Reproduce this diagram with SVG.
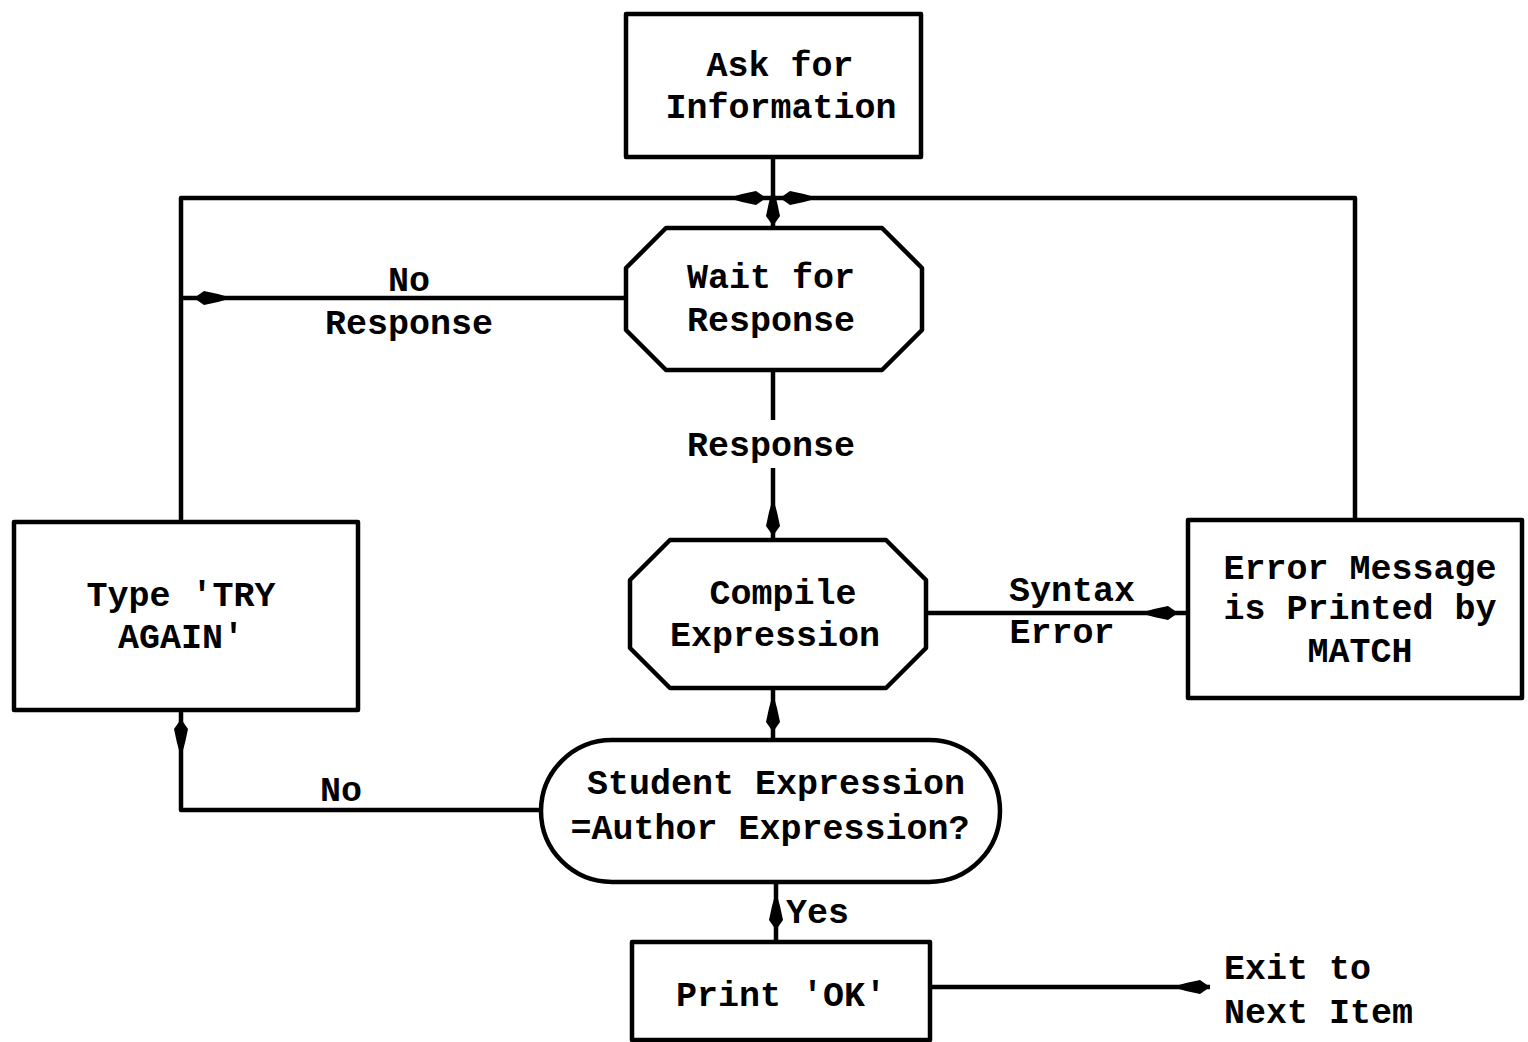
<svg xmlns="http://www.w3.org/2000/svg" xmlns:xlink="http://www.w3.org/1999/xlink" width="1528" height="1042" viewBox="0 0 1528 1042">
<style>
.box{fill:#fff;stroke:#000;stroke-width:4.5;stroke-linejoin:round}
.ln{fill:none;stroke:#000;stroke-width:4.5;stroke-linejoin:round}
.t{font-family:"Liberation Mono","DejaVu Sans Mono",monospace;font-weight:bold;font-size:35px;fill:#000;text-anchor:middle}
.tl{text-anchor:start}
</style>
<defs>
<path id="ah" d="M-24,0 L-10,-4 L4,-7 L14,0 L4,7 L-10,4 Z" fill="#000"/>
</defs>
<rect width="1528" height="1042" fill="#fff"/>
<g id="connectors">
<line class="ln" x1="773" y1="157" x2="773" y2="228"/>
<polyline class="ln" points="181,522 181,198 1355,198 1355,520"/>
<line class="ln" x1="626" y1="298" x2="181" y2="298"/>
<line class="ln" x1="773" y1="370" x2="773" y2="420"/>
<line class="ln" x1="773" y1="468" x2="773" y2="540"/>
<line class="ln" x1="926" y1="613" x2="1188" y2="613"/>
<line class="ln" x1="773" y1="688" x2="773" y2="740"/>
<polyline class="ln" points="541,810 181,810 181,710"/>
<line class="ln" x1="776" y1="882" x2="776" y2="942"/>
<line class="ln" x1="930" y1="987" x2="1210" y2="987"/>
<use xlink:href="#ah" transform="translate(752,198)"/>
<use xlink:href="#ah" transform="translate(794,198) rotate(180)"/>
<use xlink:href="#ah" transform="translate(773,212) rotate(90)"/>
<use xlink:href="#ah" transform="translate(208,298) rotate(180)"/>
<use xlink:href="#ah" transform="translate(773,522) rotate(90)"/>
<use xlink:href="#ah" transform="translate(1164,613)"/>
<use xlink:href="#ah" transform="translate(773,718) rotate(90)"/>
<use xlink:href="#ah" transform="translate(181,733) rotate(-90)"/>
<use xlink:href="#ah" transform="translate(776,916) rotate(90)"/>
<use xlink:href="#ah" transform="translate(1196,987)"/>
<text class="t" x="409" y="291">No</text>
<text class="t" x="409" y="334">Response</text>
<text class="t" x="771" y="456">Response</text>
<text class="t" x="1072" y="601">Syntax</text>
<text class="t" x="1062" y="643">Error</text>
<text class="t" x="341" y="801">No</text>
<text class="t tl" x="786" y="923">Yes</text>
<text class="t tl" x="1224" y="979">Exit to</text>
<text class="t tl" x="1224" y="1023">Next Item</text>
</g>
<g id="ask">
<rect class="box" x="626" y="14" width="295" height="143"/>
<text class="t" x="780" y="76">Ask for</text>
<text class="t" x="781" y="118">Information</text>
</g>
<g id="wait">
<polygon class="box" points="666,228 882,228 922,268 922,330 882,370 666,370 626,330 626,268"/>
<text class="t" x="771" y="288">Wait for</text>
<text class="t" x="771" y="331">Response</text>
</g>
<g id="compile">
<polygon class="box" points="670,540 886,540 926,580 926,648 886,688 670,688 630,648 630,580"/>
<text class="t" x="783" y="604">Compile</text>
<text class="t" x="775" y="646">Expression</text>
</g>
<g id="tryagain">
<rect class="box" x="14" y="522" width="344" height="188"/>
<text class="t" x="181" y="606">Type 'TRY</text>
<text class="t" x="181" y="648">AGAIN'</text>
</g>
<g id="errormsg">
<rect class="box" x="1188" y="520" width="334" height="178"/>
<text class="t" x="1360" y="579">Error Message</text>
<text class="t" x="1360" y="619">is Printed by</text>
<text class="t" x="1360" y="662">MATCH</text>
</g>
<g id="compare">
<rect class="box" x="541" y="740" width="459" height="142" rx="71" ry="71"/>
<text class="t" x="776" y="794">Student Expression</text>
<text class="t" x="770" y="839">=Author Expression?</text>
</g>
<g id="printok">
<rect class="box" x="632" y="942" width="298" height="98"/>
<text class="t" x="781" y="1006">Print 'OK'</text>
</g>
</svg>
